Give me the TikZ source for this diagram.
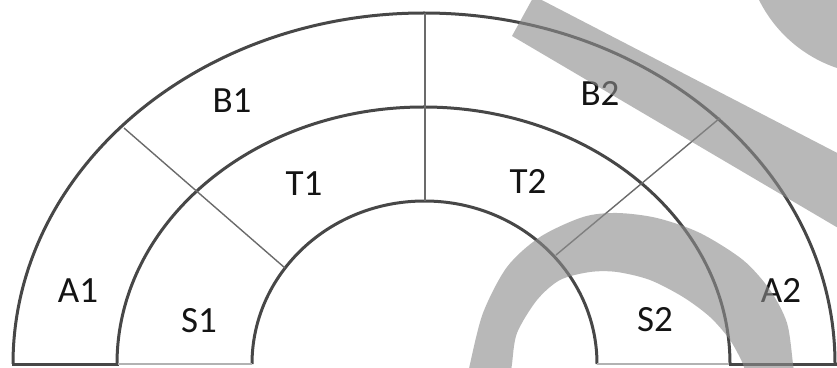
\documentclass[tikz,border=0pt]{standalone}
\usepackage{fontspec}
\setmainfont{Carlito}
\begin{document}
\begin{tikzpicture}[x=1pt,y=1pt,
  ring/.style={draw=black!72,line width=3pt},
  divider/.style={draw=black!58,line width=1.4pt},
  baseline/.style={draw=black!72,line width=3pt},
  lightbase/.style={draw=black!30,line width=1.3pt},
  lbl/.style={font=\fontsize{37}{37}\selectfont,text=black!92,inner sep=0pt},
  overlay/.style={fill=black!45,fill opacity=0.62,draw=none}]
\useasboundingbox (0,0) rectangle (837,367);
% arcs (ellipses)
\draw[ring] (13,3) arc[start angle=180,end angle=0,x radius=411,y radius=351];
\draw[ring] (117,3) arc[start angle=180,end angle=0,x radius=306.5,y radius=257];
\draw[ring] (252,3) arc[start angle=180,end angle=0,x radius=172.5,y radius=163];
% baseline
\draw[baseline] (11.5,3) -- (118.5,3);
\draw[baseline] (728.5,3) -- (836.5,3);
\draw[lightbase] (118,3) -- (252,3);
\draw[lightbase] (597,3) -- (729,3);
% divider end points
\coordinate (lo) at (124,239);
\coordinate (li) at (285,99);
\coordinate (vo) at (425,354);
\coordinate (vi) at (425,166);
\coordinate (ro) at (720,249);
\coordinate (ri) at (556,112);
\draw[divider] (lo) -- (li);
\draw[divider] (vo) -- (vi);
\draw[divider] (ro) -- (ri);
% labels
\node[lbl] (A1) at (78,76) {A1};
\node[lbl] (B1) at (232,266) {B1};
\node[lbl] (T1) at (304,183) {T1};
\node[lbl] (S1) at (199,46) {S1};
\node[lbl] (B2) at (600,274) {B2};
\node[lbl] (T2) at (528,186) {T2};
\node[lbl] (S2) at (655,47) {S2};
\node[lbl] (A2) at (781,77) {A2};
% gray overlays
\begin{scope}
\clip (0,0) rectangle (837,367);
\fill[overlay] (512,331) -- (534,371) -- (845,210) -- (845,135) -- cycle;
\fill[overlay] (880,427) circle[radius=135];
\fill[overlay] plot[smooth] coordinates {(469,-5) (470,3) (483,54) (507,100) (540,130) (583,150) (617,154) (657,149) (700,134) (743,107) (770,77) (787,44) (793,3) (794,-5)}
  -- plot[smooth] coordinates {(744,-5) (743,3) (730,27) (710,50) (683,70) (650,87) (617,95) (590,95) (560,87) (537,67) (517,34) (512,3) (511,-5)} -- cycle;
\end{scope}
\end{tikzpicture}
\end{document}
